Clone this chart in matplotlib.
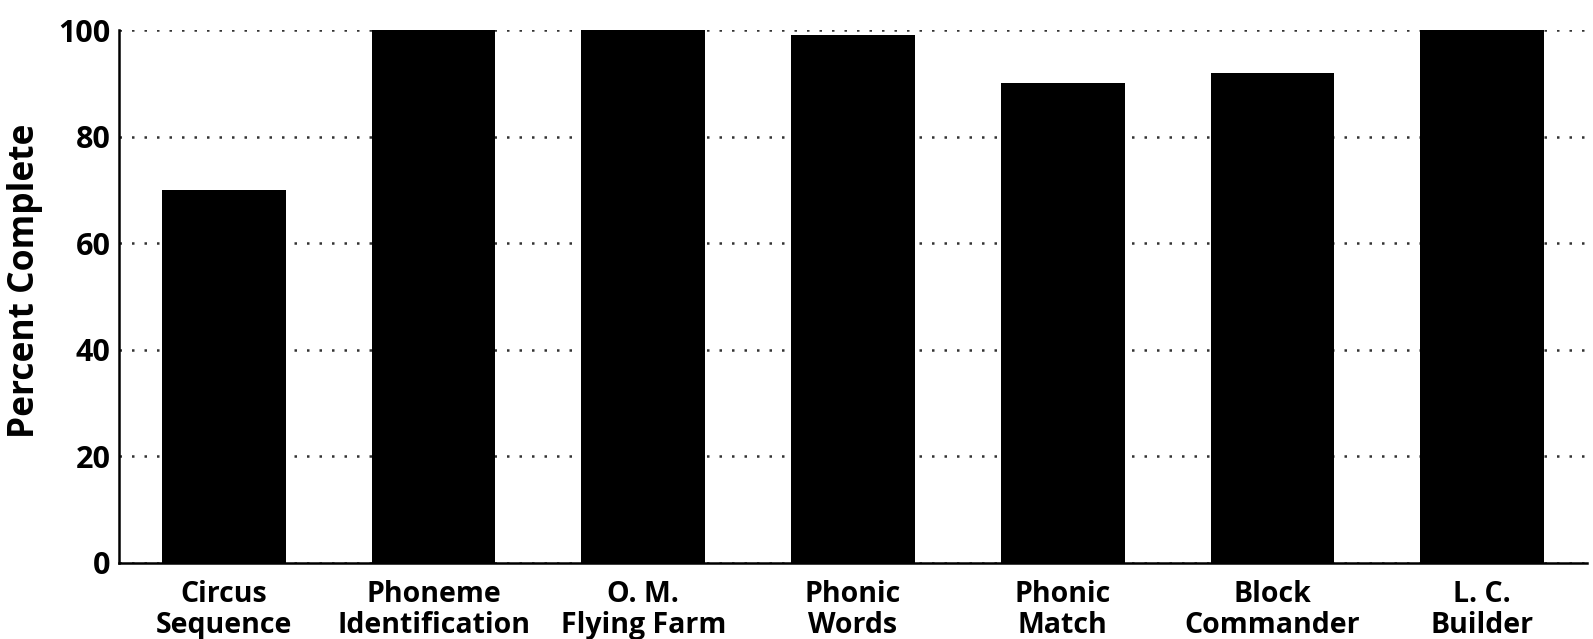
import numpy as np
from matplotlib import pyplot as plt

games = ['Circus\nSequence', 'Phoneme\nIdentification', 'O. M.\nFlying Farm',
         'Phonic\nWords', 'Phonic\nMatch', 'Block\nCommander', 'L. C.\nBuilder']
percent = [70, 100, 100, 99, 90, 92, 100]
yticks = [0, 20, 40, 60, 80, 100]

plt.rcParams['font.family'] = ['Open Sans', 'DejaVu Sans']
plt.rcParams['font.weight'] = 'bold'

fig = plt.figure(figsize=(15.93, 6.39), dpi=100)
ax = fig.add_axes([0.0747, 0.119, 0.9215, 0.834])

x = np.arange(len(games))
ax.bar(x, percent, width=0.59, color='black', zorder=3)

ax.set_xlim(-0.5, len(games) - 0.5)
ax.set_ylim(0, 100)
ax.set_yticks(yticks)
ax.set_xticks(x)
ax.set_xticklabels(games, fontsize=20.5, fontweight='bold', linespacing=1.12)
ax.tick_params(axis='both', length=0)
ax.tick_params(axis='x', pad=12, labelsize=20.5)
ax.tick_params(axis='y', pad=6, labelsize=22)
for lbl in ax.get_yticklabels():
    lbl.set_fontweight('bold')

ax.yaxis.grid(True, linestyle=(0, (1, 4)), color='#333333', linewidth=1.8, zorder=0)
ax.set_ylabel('Percent Complete', fontsize=25.5, fontweight='bold')
ax.yaxis.set_label_coords(-0.052, 0.53)

for side in ['top', 'right']:
    ax.spines[side].set_visible(False)
for side in ['left', 'bottom']:
    ax.spines[side].set_linewidth(1.8)

fig.savefig('out.png', dpi=100)
